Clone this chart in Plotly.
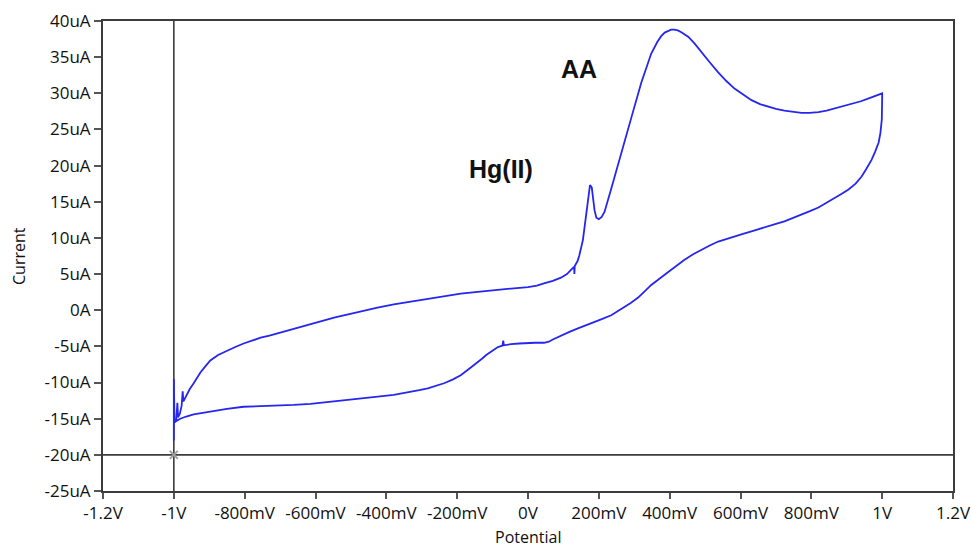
import plotly.graph_objects as go

# ---- data (potential in V, current in uA) ----
forward_v = [-1.0, -1.0, -1.0, -1.0, -0.998, -0.993, -0.99, -0.988, -0.983, -0.978, -0.975, -0.973,
             -0.965, -0.955, -0.944, -0.935, -0.925, -0.91, -0.897, -0.875, -0.85, -0.825, -0.803,
             -0.78, -0.755, -0.73, -0.708, -0.685, -0.661, -0.64, -0.614, -0.59, -0.567, -0.545,
             -0.52, -0.496, -0.472, -0.425, -0.379, -0.33, -0.283, -0.236, -0.19, -0.142, -0.095,
             -0.048, 0.0, 0.025, 0.045, 0.07, 0.093, 0.11, 0.122, 0.13, 0.131, 0.132, 0.14, 0.145,
             0.155, 0.164, 0.17, 0.175, 0.18, 0.184, 0.188, 0.193, 0.2, 0.208, 0.216, 0.235, 0.263,
             0.291, 0.32, 0.348, 0.365, 0.376, 0.386, 0.395, 0.404, 0.413, 0.423, 0.433, 0.443,
             0.453, 0.47, 0.489, 0.513, 0.537, 0.56, 0.583, 0.607, 0.631, 0.655, 0.679, 0.70, 0.724,
             0.75, 0.772, 0.795, 0.82, 0.843, 0.866, 0.89, 0.914, 0.94, 0.962, 0.985, 1.0]
forward_i = [-15.5, -18.0, -9.5, -17.0, -15.5, -15.2, -12.8, -14.8, -14.3, -13.2, -11.2, -12.6,
             -11.8, -10.9, -10.1, -9.4, -8.6, -7.7, -6.95, -6.2, -5.6, -5.05, -4.6,
             -4.2, -3.8, -3.5, -3.2, -2.85, -2.5, -2.2, -1.9, -1.6, -1.3, -1.0,
             -0.7, -0.42, -0.15, 0.35, 0.8, 1.2, 1.6, 2.0, 2.3, 2.55, 2.8,
             3.0, 3.2, 3.4, 3.7, 4.05, 4.5, 5.0, 5.6, 6.0, 5.0, 6.1, 6.8, 7.6,
             9.7, 13.0, 15.3, 17.3, 17.0, 15.5, 13.8, 12.8, 12.6, 12.9, 13.6, 16.8, 21.5,
             26.5, 31.5, 35.5, 37.1, 37.9, 38.4, 38.65, 38.8, 38.8, 38.7, 38.45, 38.15,
             37.8, 36.9, 35.7, 34.3, 32.9, 31.7, 30.65, 29.8, 29.05, 28.5, 28.1, 27.85, 27.6,
             27.4, 27.3, 27.3, 27.4, 27.6, 27.9, 28.2, 28.5, 28.9, 29.3, 29.7, 30.0]

reverse_v = [1.0, 0.999, 0.995, 0.99, 0.98, 0.97, 0.956, 0.942, 0.925, 0.905, 0.886, 0.866, 0.843,
             0.82, 0.796, 0.772, 0.748, 0.724, 0.70, 0.679, 0.655, 0.631, 0.607, 0.583, 0.56, 0.537,
             0.513, 0.489, 0.465, 0.441, 0.418, 0.396, 0.372, 0.348, 0.33, 0.311, 0.29, 0.27, 0.252,
             0.235, 0.21, 0.187, 0.164, 0.141, 0.117, 0.093, 0.07, 0.059, 0.045, 0.02, 0.0, -0.025,
             -0.048, -0.068, -0.07, -0.072, -0.085, -0.095, -0.106, -0.118, -0.13, -0.142, -0.166,
             -0.19, -0.213, -0.237, -0.26, -0.283, -0.307, -0.331, -0.355, -0.379, -0.424, -0.472,
             -0.52, -0.567, -0.614, -0.661, -0.708, -0.755, -0.803, -0.85, -0.897, -0.944, -0.965,
             -0.982, -0.995, -1.0]
reverse_i = [29.5, 26.4, 24.5, 23.2, 21.9, 20.8, 19.6, 18.5, 17.5, 16.7, 16.1, 15.5, 14.8,
             14.2, 13.7, 13.2, 12.75, 12.3, 11.95, 11.6, 11.25, 10.9, 10.55, 10.2, 9.85, 9.5,
             8.95, 8.35, 7.7, 6.95, 6.15, 5.3, 4.4, 3.5, 2.65, 1.75, 1.0, 0.35, -0.2,
             -0.7, -1.2, -1.6, -2.05, -2.5, -3.0, -3.5, -4.05, -4.35, -4.5, -4.5, -4.5, -4.6,
             -4.7, -4.85, -4.2, -4.9, -5.1, -5.4, -5.75, -6.2, -6.7, -7.2, -8.1,
             -9.0, -9.6, -10.1, -10.5, -10.8, -11.05, -11.3, -11.5, -11.7, -11.95, -12.2,
             -12.5, -12.7, -12.95, -13.1, -13.15, -13.2, -13.35, -13.65, -14.0, -14.4, -14.7,
             -15.0, -15.4, -15.6]

x_tick_vals = [-1.2, -1.0, -0.8, -0.6, -0.4, -0.2, 0.0, 0.2, 0.4, 0.6, 0.8, 1.0, 1.2]
x_tick_text = ["-1.2V", "-1V", "-800mV", "-600mV", "-400mV", "-200mV", "0V",
               "200mV", "400mV", "600mV", "800mV", "1V", "1.2V"]
y_tick_vals = [40, 35, 30, 25, 20, 15, 10, 5, 0, -5, -10, -15, -20, -25]
y_tick_text = ["40uA", "35uA", "30uA", "25uA", "20uA", "15uA", "10uA", "5uA", "0A",
               "-5uA", "-10uA", "-15uA", "-20uA", "-25uA"]

x_title = "Potential"
y_title = "Current"

cursor_x = -1.0
cursor_y = -20.0

labels = [("AA", 0.1445, 33.3), ("Hg(II)", -0.0765, 19.5)]

# ---- figure ----
fig = go.Figure()
fig.add_trace(go.Scatter(x=forward_v + reverse_v, y=forward_i + reverse_i, mode="lines",
                         line=dict(color="rgb(38,38,238)", width=1.8), showlegend=False,
                         hoverinfo="skip"))

axis_col = "#3c3c3c"
fig.add_shape(type="line", xref="x", yref="paper", x0=cursor_x, x1=cursor_x, y0=0, y1=1,
              line=dict(color=axis_col, width=1.6), layer="below")
fig.add_shape(type="line", xref="paper", yref="y", x0=0, x1=1, y0=cursor_y, y1=cursor_y,
              line=dict(color=axis_col, width=1.6), layer="below")
fig.add_trace(go.Scatter(x=[cursor_x], y=[cursor_y], mode="markers",
                         marker=dict(symbol="x-thin-open", size=8, color="#a0a0a0",
                                     line=dict(width=2, color="#a0a0a0")),
                         showlegend=False, hoverinfo="skip"))

for txt, lx, ly in labels:
    fig.add_annotation(x=lx, y=ly, text="<b>%s</b>" % txt, showarrow=False,
                       font=dict(family="Liberation Sans, Arial", size=25, color="#111"))

tick_font = dict(family="Open Sans", size=17, color="#111")
title_font = dict(family="Open Sans", size=16, color="#111")

# axis titles placed as annotations so they can sit where the reference has them
fig.add_annotation(text=x_title, xref="paper", yref="paper", x=0.5, y=0,
                   yanchor="top", yshift=-34, borderpad=0, showarrow=False, font=title_font)
fig.add_annotation(text=y_title, xref="paper", yref="paper", x=0, y=0.5,
                   xanchor="center", xshift=-84, textangle=-90, showarrow=False, font=title_font)

fig.update_layout(
    width=971, height=549,
    margin=dict(l=103, r=18, t=21, b=58),
    paper_bgcolor="white", plot_bgcolor="white",
    xaxis=dict(range=[-1.2, 1.2], tickvals=x_tick_vals, ticktext=x_tick_text,
               showgrid=False, zeroline=False, showline=True, mirror=True, automargin=False,
               linecolor=axis_col, linewidth=2, ticks="outside", ticklen=6, tickwidth=1.5,
               tickcolor="#555", tickfont=tick_font, ticklabeloverflow="allow"),
    yaxis=dict(range=[-25, 40], tickvals=y_tick_vals, ticktext=y_tick_text,
               showgrid=False, zeroline=False, showline=True, mirror=True, automargin=False,
               linecolor=axis_col, linewidth=2, ticks="outside", ticklen=7, tickwidth=1.5,
               tickcolor="#555", tickfont=tick_font, ticklabeloverflow="allow"),
)

fig.write_html("out.html")
